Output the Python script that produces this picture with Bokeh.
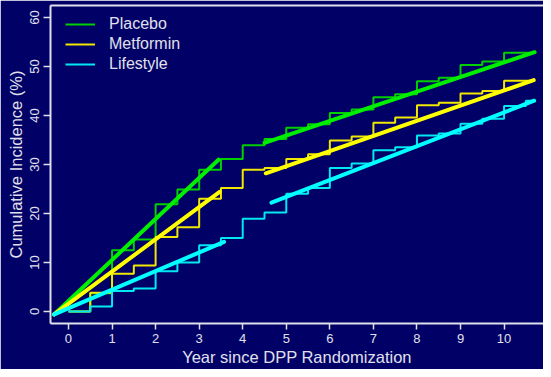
from bokeh.plotting import figure
from bokeh.models import Range1d, FixedTicker, LinearAxis, Legend, LegendItem
from bokeh.embed import file_html
from bokeh.resources import INLINE

# ---- data ----
years = [0, 0.5, 1, 1.5, 2, 2.5, 3, 3.5, 4, 4.5, 5, 5.5, 6, 6.5, 7, 7.5, 8, 8.5, 9, 9.5, 10, 10.5, 10.65]
placebo = [0, 3.7, 12.5, 14.7, 21.9, 24.9, 28.9, 31.1, 33.9, 35.2, 37.5, 38.2, 40.5, 41.2, 43.7, 44.3,
           47.0, 47.7, 50.3, 51.0, 52.8, 52.8, 52.8]
metformin = [0, 3.8, 7.7, 9.4, 15.2, 17.2, 23.0, 25.2, 28.9, 29.3, 31.1, 32.1, 34.9, 35.7, 38.5, 39.6,
             42.1, 42.6, 44.5, 45.0, 47.1, 47.1, 47.1]
lifestyle = [0, 1.0, 4.2, 4.7, 8.2, 10.0, 13.5, 15.0, 18.9, 20.2, 24.0, 25.2, 29.3, 30.2, 32.9, 33.5,
             35.9, 36.3, 38.3, 39.3, 41.9, 43.0, 43.0]

# fitted trend segments (DPP period, DPPOS period)
placebo_fit_x = [[-0.33, 3.45], [4.5, 10.7]]
placebo_fit_y = [[-0.6, 31.0], [34.4, 52.9]]
metformin_fit_x = [[-0.33, 3.47], [4.53, 10.68]]
metformin_fit_y = [[-0.6, 24.4], [28.2, 47.2]]
lifestyle_fit_x = [[-0.33, 3.57], [4.66, 10.69]]
lifestyle_fit_y = [[-0.6, 14.2], [22.2, 43.0]]

x_ticks = [0, 1, 2, 3, 4, 5, 6, 7, 8, 9, 10]
y_ticks = [0, 10, 20, 30, 40, 50, 60]

groups = ["Placebo", "Metformin", "Lifestyle"]

# ---- style ----
BG = "#000066"
FG = "#E0E0EC"
FONT = "Liberation Sans"
thin_colors = ["#00D000", "#F0E800", "#00E8F0"]
thick_colors = ["#00EE00", "#FFFF00", "#00FFFF"]

p = figure(width=543, height=369, output_backend="svg", toolbar_location=None,
           x_range=Range1d(-0.413, 10.905), y_range=Range1d(-2.45, 62.43),
           min_border_left=50, min_border_right=0, min_border_top=5, min_border_bottom=46)
p.background_fill_color = BG
p.border_fill_color = BG
p.outline_line_color = None
p.grid.visible = False

series = [placebo, metformin, lifestyle]
fits = [(placebo_fit_x, placebo_fit_y), (metformin_fit_x, metformin_fit_y),
        (lifestyle_fit_x, lifestyle_fit_y)]
items = []
for name, vals, (fx, fy), tc, kc in zip(groups, series, fits, thin_colors, thick_colors):
    r = p.step(years, vals, mode="after", line_color=tc, line_width=2)
    p.multi_line(fx, fy, line_color=kc, line_width=4, line_cap="round")
    items.append(LegendItem(label=name, renderers=[r]))

legend = Legend(items=items, location=(15, 249), margin=0, padding=0, spacing=0,
                glyph_width=30, glyph_height=20, label_height=20, label_standoff=14,
                label_text_font=FONT, label_text_font_size="16px", label_text_color=FG,
                background_fill_alpha=0, border_line_color=None)
p.add_layout(legend)

for ax in (p.xaxis[0], p.yaxis[0]):
    ax.axis_line_color = FG
    ax.axis_line_width = 2
    ax.major_tick_line_color = FG
    ax.major_tick_line_width = 1.5
    ax.major_tick_in = 0
    ax.minor_tick_line_color = None
    ax.major_label_text_color = FG
    ax.major_label_text_font = FONT
    ax.major_label_text_font_size = "13px"
    ax.axis_label_text_color = FG
    ax.axis_label_text_font = FONT
    ax.axis_label_text_font_size = "16.5px"
    ax.axis_label_text_font_style = "normal"

p.xaxis.ticker = FixedTicker(ticks=x_ticks)
p.yaxis.ticker = FixedTicker(ticks=y_ticks)
p.xaxis.axis_label = "Year since DPP Randomization"
p.yaxis.axis_label = "Cumulative Incidence (%)"
p.xaxis.major_tick_out = 6
p.xaxis.major_label_standoff = 4
p.xaxis.axis_label_standoff = 2
p.yaxis.major_tick_out = 7
p.yaxis.major_label_standoff = 4
p.yaxis.axis_label_standoff = 3
p.yaxis.major_label_orientation = "vertical"

top = LinearAxis(ticker=FixedTicker(ticks=[]), axis_line_color=FG, axis_line_width=2,
                 major_tick_out=0, major_tick_in=0, minor_tick_out=0, minor_tick_in=0,
                 major_label_standoff=0, major_label_text_font_size="0px")
p.add_layout(top, "above")

html = file_html(p, INLINE)
html = html.replace("<body>", '<body style="background-color:%s;">' % BG, 1)
open("out.html", "w").write(html)
